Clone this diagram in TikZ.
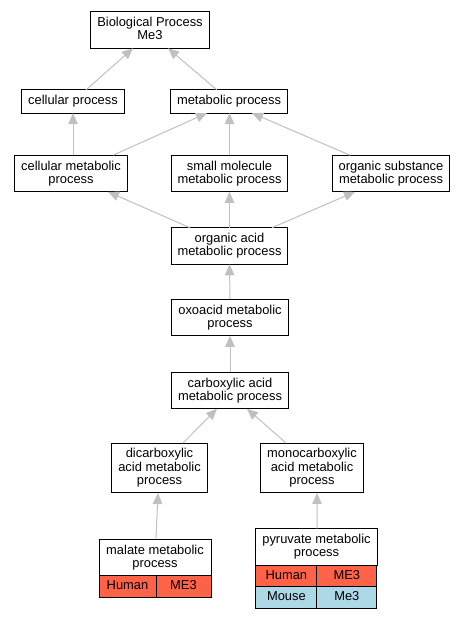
\documentclass[tikz,border=0pt]{standalone}
\usepackage{fontspec}
\setmainfont{Liberation Sans}
\usetikzlibrary{arrows.meta}
\definecolor{EdgeGray}{RGB}{192,192,192}
\definecolor{HumanRed}{RGB}{255,99,71}
\definecolor{MouseBlue}{RGB}{173,216,230}
\newcommand{\gofont}{\fontsize{12.9bp}{13.4bp}\selectfont}
\tikzset{
  gobox/.style={
    draw=black,
    fill=white,
    line width=1bp,
    align=center,
    inner xsep=6.5bp,
    inner ysep=5.5bp,
    outer sep=0pt,
    text depth=2.8bp,
    font=\gofont
  },
  cellbox/.style={
    draw=black,
    line width=1bp,
    inner sep=0pt,
    outer sep=0pt,
    minimum height=21.5bp,
    text depth=2.8bp,
    anchor=north west,
    font=\gofont
  },
  humancell/.style={cellbox,fill=HumanRed},
  mousecell/.style={cellbox,fill=MouseBlue},
  isa/.style={-{Triangle[length=11bp,width=9.5bp]},line width=1bp,draw=EdgeGray}
}

\begin{document}
\begin{tikzpicture}[x=1bp,y=-1bp]
  \useasboundingbox (0,0) rectangle (464,619);

  \node[gobox] (bp) at (150,30) {Biological Process\\Me3};
  \node[gobox] (cp) at (73,101.5) {cellular process};
  \node[gobox] (mp) at (229,101.5) {metabolic process};
  \node[gobox] (cmp) at (71,173.5) {cellular metabolic\\process};
  \node[gobox] (smp) at (229.5,173.5) {small molecule\\metabolic process};
  \node[gobox] (osmp) at (391,173.5) {organic substance\\metabolic process};
  \node[gobox] (oamp) at (229.5,246) {organic acid\\metabolic process};
  \node[gobox] (oxmp) at (230,317.5) {oxoacid metabolic\\process};
  \node[gobox] (camp) at (230,390.5) {carboxylic acid\\metabolic process};
  \node[gobox] (dcamp) at (159.5,468) {dicarboxylic\\acid metabolic\\process};
  \node[gobox] (mcamp) at (312,468) {monocarboxylic\\acid metabolic\\process};

  % malate with its one gene row
  \node[gobox,minimum width=112bp] (mlmp) at (155,557.5) {malate metabolic\\process};
  \node[humancell,minimum width=57bp] (mlhuman) at (mlmp.south west) {Human};
  \node[humancell,minimum width=55bp] (mlme) at (mlhuman.north east) {ME3};

  % pyruvate with human and mouse rows
  \node[gobox,minimum width=121bp] (pymp) at (316.5,547) {pyruvate metabolic\\process};
  \node[humancell,minimum width=61bp] (pyhuman) at (pymp.south west) {Human};
  \node[humancell,minimum width=60bp] (pyme) at (pyhuman.north east) {ME3};
  \node[mousecell,minimum width=61bp] (pymouse) at (pyhuman.south west) {Mouse};
  \node[mousecell,minimum width=60bp] (pymeb) at (pymouse.north east) {Me3};

  % is_a edges, child -> parent
  \draw[isa] ([xshift=13bp]cp.north) -- ([xshift=-17bp]bp.south);
  \draw[isa] ([xshift=-12bp]mp.north) -- ([xshift=18bp]bp.south);
  \draw[isa] (cp.south |- cmp.north) -- (cp.south);
  \draw[isa] ([xshift=42bp]cmp.north) -- ([xshift=-22bp]mp.south);
  \draw[isa] (smp.north) -- (smp.north |- mp.south);
  \draw[isa] ([xshift=-41bp]osmp.north) -- ([xshift=23bp]mp.south);
  \draw[isa] ([xshift=-39.5bp]oamp.north) -- ([xshift=37bp]cmp.south);
  \draw[isa] (oamp.north) -- (smp.south);
  \draw[isa] ([xshift=42.5bp]oamp.north) -- ([xshift=-36bp]osmp.south);
  \draw[isa] (oxmp.north) -- (oamp.south);
  \draw[isa] (camp.north) -- (oxmp.south);
  \draw[isa] ([xshift=23.5bp]dcamp.north) -- ([xshift=-13bp]camp.south);
  \draw[isa] ([xshift=-26bp]mcamp.north) -- ([xshift=17bp]camp.south);
  \draw[isa] ([xshift=1bp]mlmp.north) -- ([xshift=-1.5bp]dcamp.south);
  \draw[isa] ([xshift=0.5bp]pymp.north) -- ([xshift=5bp]mcamp.south);
\end{tikzpicture}
\end{document}
